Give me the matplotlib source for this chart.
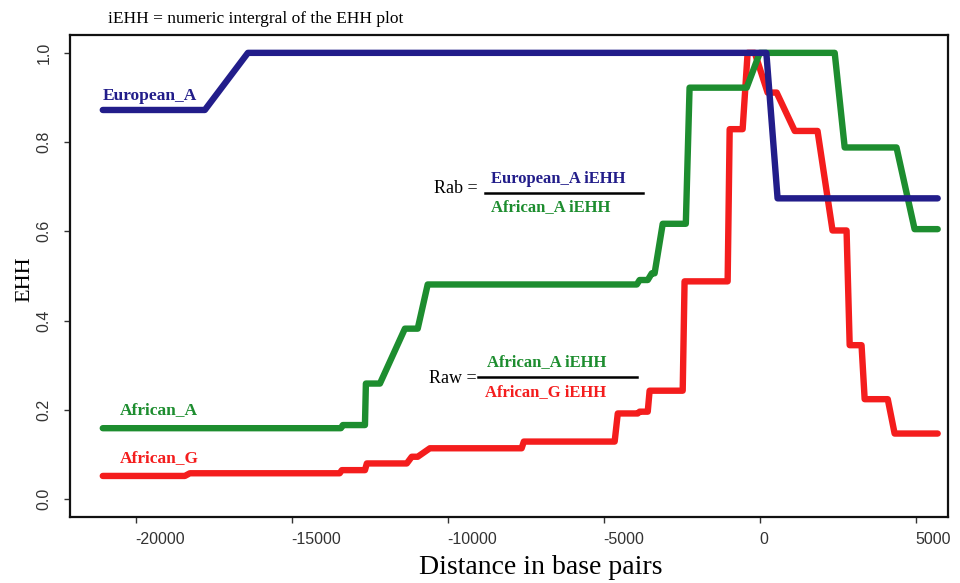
import numpy as np
import matplotlib
matplotlib.use("Agg")
import matplotlib.pyplot as plt

# EHH decay curves, distance (bp) vs EHH
euro_x = [-21050, -17780, -16400, 210, 570, 5700]
euro_y = [0.872, 0.872, 1.0, 1.0, 0.674, 0.674]

afr_a_x = [-21050, -13420, -13360, -12650, -12620, -12170, -11370, -10960, -10640,
           -3940, -3850, -3590, -3460, -3370, -3110, -2370, -2250, -420, 0,
           2400, 2720, 4380, 4960, 5700]
afr_a_y = [0.159, 0.159, 0.166, 0.166, 0.259, 0.259, 0.382, 0.382, 0.481,
           0.481, 0.491, 0.491, 0.506, 0.506, 0.617, 0.617, 0.922, 0.922, 1.0,
           1.0, 0.788, 0.788, 0.605, 0.605]

afr_g_x = [-21050, -18420, -18260, -13460, -13390, -12650, -12590, -11310, -11150,
           -10960, -10570, -7630, -7560, -4650, -4550, -3910, -3850, -3590, -3530,
           -2470, -2410, -1030, -965, -550, -390, -160, 250, 540, 1120, 1850,
           2330, 2780, 2880, 3260, 3360, 4100, 4320, 5700]
afr_g_y = [0.052, 0.052, 0.058, 0.058, 0.065, 0.065, 0.080, 0.080, 0.095,
           0.095, 0.114, 0.114, 0.129, 0.129, 0.192, 0.192, 0.196, 0.196, 0.243,
           0.243, 0.488, 0.488, 0.829, 0.829, 1.0, 1.0, 0.911, 0.911, 0.825, 0.825,
           0.602, 0.602, 0.345, 0.345, 0.224, 0.224, 0.147, 0.147]

x_ticks = [-20000, -15000, -10000, -5000, 0, 5000]
y_ticks = [0.0, 0.2, 0.4, 0.6, 0.8, 1.0]

BLUE = "#221d8a"
GREEN = "#1d8d2f"
RED = "#f41d1d"
SERIF = "Liberation Serif"
SANS = "Liberation Sans"

W, H = 960, 583
fig = plt.figure(figsize=(W / 100, H / 100), dpi=100)
ax = fig.add_axes([70 / W, 1 - 517 / H, 878 / W, 482 / H])

line_kw = dict(lw=4.6, solid_capstyle="round", solid_joinstyle="round")
ax.plot(afr_g_x, afr_g_y, color=RED, **line_kw)
ax.plot(afr_a_x, afr_a_y, color=GREEN, **line_kw)
ax.plot(euro_x, euro_y, color=BLUE, **line_kw)

ax.set_xlim(-22100, 6030)
ax.set_ylim(-0.04, 1.04)

for s in ax.spines.values():
    s.set_linewidth(1.6)
    s.set_color("#111111")

ax.set_xticks(x_ticks)
ax.set_xticklabels([str(t) for t in x_ticks], fontfamily=SANS, fontsize=11.5,
                   color="#333333", ha="left")
ax.set_yticks(y_ticks)
ax.set_yticklabels(["%.1f" % t for t in y_ticks], fontfamily=SANS, fontsize=11.5,
                   color="#333333", rotation=90, va="center")
ax.tick_params(axis="both", direction="out", length=4.5, width=1.0, color="#333333")
ax.tick_params(axis="x", pad=6)
ax.tick_params(axis="y", pad=9)

# axis titles placed by pixel position
ax.set_xlabel("Distance in base pairs", fontfamily=SERIF, fontsize=20, va="center")
ax.xaxis.set_label_coords((541 - 70) / 878, (517 - 568) / 482)
ax.set_ylabel("EHH", fontfamily=SERIF, fontsize=16, va="center")
ax.yaxis.set_label_coords((25 - 70) / 878, (517 - 279) / 482)

# curve names
ax.text(-21050, 0.903, "European_A", color=BLUE, fontfamily=SERIF,
        fontweight="bold", fontsize=12.5, va="center")
ax.text(-20500, 0.1995, "African_A", color=GREEN, fontfamily=SERIF,
        fontweight="bold", fontsize=12.5, va="center")
ax.text(-20500, 0.092, "African_G", color=RED, fontfamily=SERIF,
        fontweight="bold", fontsize=12.5, va="center")

# ratio formulas
ax.text(-9036, 0.6955, "Rab =", fontfamily=SERIF, fontsize=13, ha="right", va="center")
ax.plot([-8810, -3750], [0.6866, 0.6866], color="black", lw=1.8)
ax.text(-8618, 0.7178, "European_A iEHH", color=BLUE, fontfamily=SERIF,
        fontweight="bold", fontsize=12, va="center")
ax.text(-8618, 0.6553, "African_A iEHH", color=GREEN, fontfamily=SERIF,
        fontweight="bold", fontsize=12, va="center")

ax.text(-9068, 0.271, "Raw =", fontfamily=SERIF, fontsize=13, ha="right", va="center")
ax.plot([-9036, -3943], [0.2739, 0.2739], color="black", lw=1.8)
ax.text(-8748, 0.3067, "African_A iEHH", color=GREEN, fontfamily=SERIF,
        fontweight="bold", fontsize=12, va="center")
ax.text(-8812, 0.2397, "African_G iEHH", color=RED, fontfamily=SERIF,
        fontweight="bold", fontsize=12, va="center")

fig.text(108 / W, 1 - 19 / H, "iEHH = numeric intergral of the EHH plot",
         fontfamily=SERIF, fontsize=12.5, va="center")

fig.savefig("out.png", dpi=100)
